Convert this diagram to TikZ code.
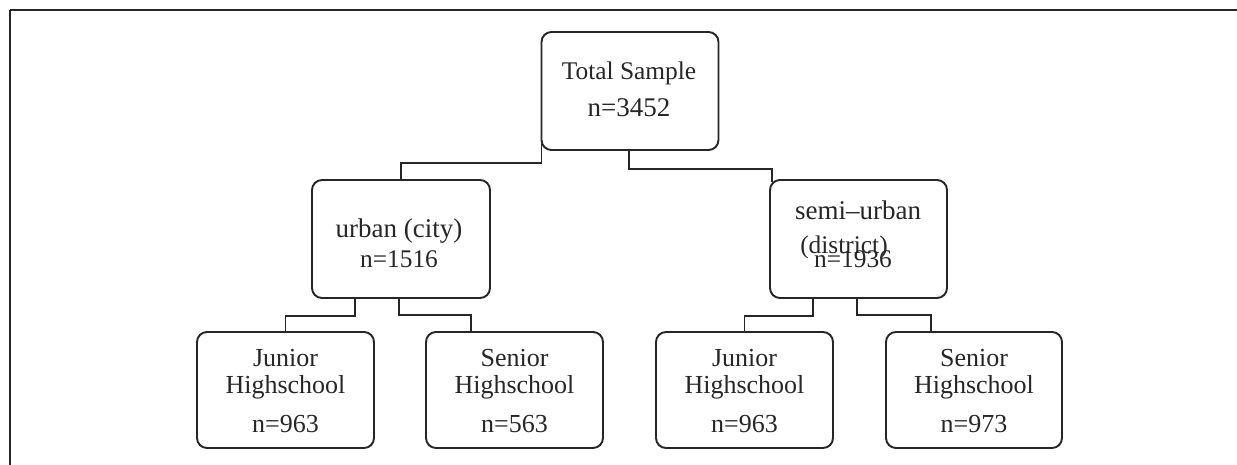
\documentclass[tikz,border=0pt]{standalone}
\usepackage{fontspec}
\setmainfont{Liberation Serif}
\begin{document}
\begin{tikzpicture}[x=0.5pt,y=-0.5pt,
  box/.style={draw=black!85, rounded corners=5pt, line width=0.95pt, inner sep=0pt, minimum width=88.5pt, minimum height=58pt},
  link/.style={draw=black!85, line width=0.75pt},
  frame/.style={draw=black!85, line width=0.9pt},
  txt/.style={anchor=base, inner sep=0pt, text=black!85, font=\fontsize{12.7}{15}\selectfont},
  txts/.style={txt, font=\fontsize{13}{15}\selectfont},
  txtb/.style={txt, font=\fontsize{13.5}{16}\selectfont}]
\useasboundingbox (0,0) rectangle (1237,465);
\draw[frame] (10,465) -- (10,10);
\draw[frame, line width=1.1pt] (10,10) -- (1237,10);

% boxes
\node[box, minimum height=59pt] (total) at (630,91) {};
\node[box, minimum width=89pt, minimum height=59pt] (urban) at (401,239) {};
\node[box, minimum height=59pt] (semi) at (858.5,239) {};
\node[box] (j1) at (285.5,390) {};
\node[box] (s1) at (514.5,390) {};
\node[box] (j2) at (744.5,390) {};
\node[box, minimum width=88pt] (s2) at (974,390) {};

% texts
\node[txt] (t1) at (629,80) {Total Sample};
\node[txtb] (t2) at (629,117) {n=3452};
\node[txtb] (u1) at (399,237) {urban (city)};
\node[txt] (u2) at (399,267) {n=1516};
\node[txtb] (m1) at (858,220) {semi–urban};
\node[txt] (m2) at (844,253) {(district)};
\node[txt] (m3) at (853,267) {n=1936};
\node[txts] (j1a) at (285.5,366) {Junior};
\node[txts] (j1b) at (285.5,393) {Highschool};
\node[txts] (j1c) at (285.5,432) {n=963};
\node[txts] (s1a) at (514.5,366) {Senior};
\node[txts] (s1b) at (514.5,393) {Highschool};
\node[txts] (s1c) at (514.5,432) {n=563};
\node[txts] (j2a) at (744.5,366) {Junior};
\node[txts] (j2b) at (744.5,393) {Highschool};
\node[txts] (j2c) at (744.5,432) {n=963};
\node[txts] (s2a) at (974,366) {Senior};
\node[txts] (s2b) at (974,393) {Highschool};
\node[txts] (s2c) at (974,432) {n=973};

% connectors
\draw[link] ([shift={(1,-7)}]total.south west) -- ++(0,19) -| (urban.north);
\draw[link] ([xshift=-0.5pt]total.south) -- ++(0,18) -| ([shift={(3,3)}]semi.north west);
\draw[link] ([xshift=-23pt]urban.south) -- ++(0,17) -| (j1.north);
\draw[link] ([xshift=-1pt]urban.south) -- ++(0,16) -| ([xshift=-21.75pt]s1.north);
\draw[link] ([xshift=-22.75pt]semi.south) -- ++(0,17) -| (j2.north);
\draw[link] ([xshift=-0.75pt]semi.south) -- ++(0,16) -| ([xshift=-21.5pt]s2.north);
\end{tikzpicture}
\end{document}
